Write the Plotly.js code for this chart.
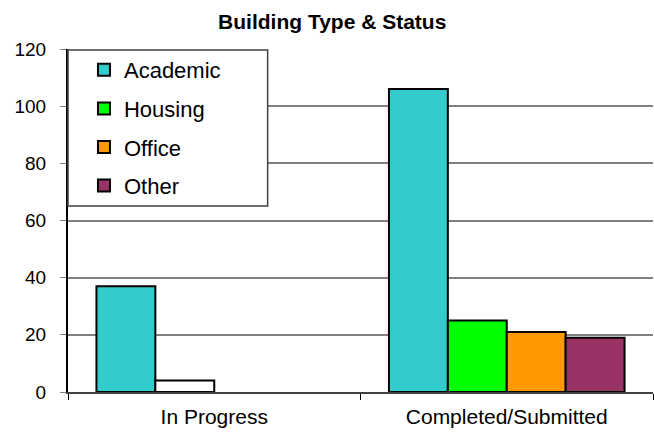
<!DOCTYPE html>
<html>
<head>
<meta charset="utf-8">
<script src="https://cdn.plot.ly/plotly-3.0.1.min.js"></script>
<style>
html,body{margin:0;padding:0;background:#fff;}
#chart{width:654px;height:432px;}
</style>
</head>
<body>
<div id="chart"></div>
<script>
const categories = ["In Progress", "Completed/Submitted"];
const seriesNames = ["Academic", "Housing", "Office", "Other"];
const academic = [37, 106];
const housing = [4, 25];
const office = [null, 21];
const other = [null, 19];
const housingInProgressColor = "#FFFFFF";
const colors = ["#33CCCC", "#00FF00", "#FF9900", "#993366"];

const values = [academic, housing, office, other];
const W = 236 / 293 / 4;
const FONT = "Liberation Sans, Arial, sans-serif";

const traces = [];
values.forEach((vals, i) => {
  let y = vals.slice();
  // Housing: in-progress bar drawn separately (white fill), legend keeps green
  if (i === 1) y = vals.map((v, k) => (k === 0 ? null : v));
  traces.push({
    type: "bar",
    name: seriesNames[i],
    x: categories,
    y: y,
    width: W,
    offset: -2 * W + i * W,
    legendgroup: "g" + i,
    marker: { color: colors[i], line: { color: "#000000", width: 2 } },
    hoverinfo: "x+y+name"
  });
});
// white Housing bar for In Progress
traces.push({
  type: "bar",
  name: seriesNames[1],
  x: categories,
  y: housing.map((v, k) => (k === 0 ? v : null)),
  width: W,
  offset: -W,
  showlegend: false,
  legendgroup: "g1",
  marker: { color: housingInProgressColor, line: { color: "#000000", width: 2 } }
});

const layout = {
  width: 654,
  height: 432,
  margin: { l: 68, r: 1, t: 49, b: 40 },
  paper_bgcolor: "#FFFFFF",
  plot_bgcolor: "#FFFFFF",
  barmode: "overlay",
  font: { family: FONT, color: "#000000" },
  title: {
    text: "<b>Building Type & Status</b>",
    font: { family: FONT, size: 21, color: "#000000" },
    x: 0.508, xanchor: "center", xref: "container",
    y: 1 - 22 / 432, yanchor: "middle", yref: "container"
  },
  xaxis: {
    type: "category",
    tickson: "boundaries",
    ticks: "outside",
    ticklen: 6,
    tickcolor: "#000000",
    showline: true,
    linecolor: "#404040",
    linewidth: 2,
    ticklabelstandoff: 5,
    tickfont: { family: FONT, size: 21, color: "#000000" },
    showgrid: false,
    fixedrange: true
  },
  yaxis: {
    range: [0, 120],
    dtick: 20,
    ticks: "outside",
    ticklen: 6,
    tickcolor: "#808080",
    showline: true,
    linecolor: "#000000",
    linewidth: 2,
    gridcolor: "#808080",
    gridwidth: 2,
    zeroline: false,
    ticklabelstandoff: 10,
    tickfont: { family: FONT, size: 19, color: "#000000" },
    fixedrange: true
  },
  showlegend: true,
  legend: {
    x: (84 - 68) / 586, xanchor: "left",
    y: (392 - 49) / 343, yanchor: "top",
    bgcolor: "rgba(0,0,0,0)",
    borderwidth: 0,
    font: { family: FONT, size: 22, color: "#000000" },
    tracegroupgap: 7,
    traceorder: "grouped"
  },
  shapes: [{
    type: "rect", xref: "paper", yref: "paper",
    x0: 0, x1: (268 - 68) / 586,
    y0: (392 - 206) / 343, y1: (392 - 50) / 343,
    line: { color: "#404040", width: 1.5 },
    fillcolor: "#FFFFFF",
    layer: "above"
  }]
};

Plotly.newPlot("chart", traces, layout, { displayModeBar: false, staticPlot: true });
</script>
</body>
</html>
